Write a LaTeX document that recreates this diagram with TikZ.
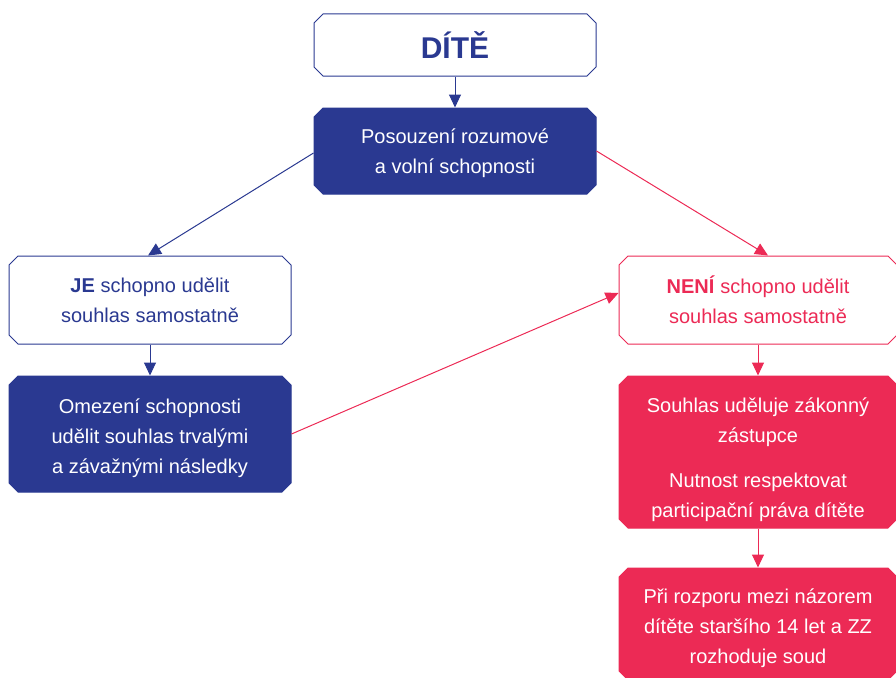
\documentclass[tikz,border=0pt]{standalone}
\usepackage{fontspec}
\setmainfont{Liberation Sans}
\usetikzlibrary{shapes.misc,arrows.meta}
\definecolor{cblue}{RGB}{42,57,145}
\definecolor{cred}{RGB}{236,42,85}
\newcommand\lowerby[1]{\rule{0pt}{#1}}
\tikzset{
  box/.style={chamfered rectangle, chamfered rectangle xsep=4.5pt, chamfered rectangle ysep=4.5pt,
    line width=1pt, align=center, inner sep=0pt,
    font=\fontsize{20}{30}\selectfont},
  bluebox/.style={box, draw=cblue, fill=cblue, text=white},
  blueline/.style={box, draw=cblue, fill=white, text=cblue},
  redbox/.style={box, draw=cred, fill=cred, text=white},
  redline/.style={box, draw=cred, fill=white, text=cred},
  barrow/.style={draw=cblue, line width=1pt, -{Triangle[length=13pt,width=12pt]}},
  rarrow/.style={draw=cred, line width=1pt, -{Triangle[length=13pt,width=12pt]}},
}
\begin{document}
\begin{tikzpicture}[x=1pt,y=-1pt]
\useasboundingbox (0,0) rectangle (896,677);
\node[blueline, minimum width=282pt, minimum height=62pt, font=\fontsize{30}{30}\selectfont\bfseries] (dite) at (455,45) {DÍTĚ};
\node[bluebox, minimum width=282pt, minimum height=86pt] (pos) at (455,151) {\lowerby{20pt}Posouzení rozumové\\a volní schopnosti};
\node[blueline, minimum width=282pt, minimum height=88pt] (je) at (150,300) {\textbf{JE} schopno udělit\\souhlas samostatně};
\node[bluebox, minimum width=282pt, minimum height=116pt] (om) at (150,434) {\lowerby{24pt}Omezení schopnosti\\udělit souhlas trvalými\\a závažnými následky};
\node[redline, minimum width=278pt, minimum height=88pt] (neni) at (758,300) {\textbf{NENÍ} schopno udělit\\souhlas samostatně};
\node[redbox, minimum width=278pt, minimum height=152pt] (souh) at (758,452) {\lowerby{31pt}Souhlas uděluje zákonný\\zástupce\\[15pt]Nutnost respektovat\\participační práva dítěte};
\node[redbox, minimum width=278pt, minimum height=112pt] (pri) at (758,624) {\lowerby{24pt}Při rozporu mezi názorem\\dítěte staršího 14 let a ZZ\\rozhoduje soud};
\draw[barrow] (dite.south) -- (pos.north);
\draw[barrow] ([yshift=-2pt]pos.west) -- ([xshift=-2pt]je.north);
\draw[barrow] (je.south) -- (om.north);
\draw[rarrow] (pos.east) -- ([xshift=10pt]neni.north);
\draw[rarrow] (om.east) -- ([yshift=7pt]neni.west);
\draw[rarrow] (neni.south) -- (souh.north);
\draw[rarrow] (souh.south) -- (pri.north);
\end{tikzpicture}
\end{document}
